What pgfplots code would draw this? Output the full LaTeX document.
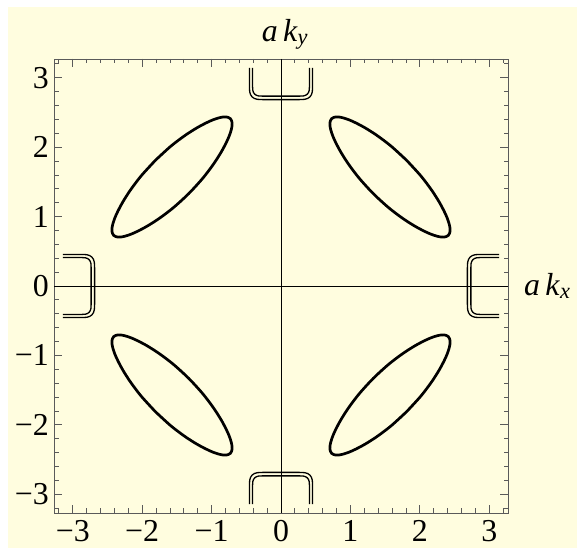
\documentclass[border=0pt]{standalone}
\usepackage{fontspec}
\setmainfont{Liberation Serif}
\usepackage{pgfplots}
\pgfplotsset{compat=1.18}
\usepackage{pgfplotstable}
\definecolor{bgyellow}{HTML}{FFFDDF}
\definecolor{framegray}{HTML}{5A5A5A}

% one lobe (first quadrant)
\pgfplotstableread{
x y
1.810 1.810
2.013 1.588
2.165 1.388
2.276 1.215
2.350 1.077
2.394 0.979
2.422 0.895
2.434 0.836
2.436 0.788
2.411 0.729
2.352 0.704
2.304 0.706
2.245 0.718
2.161 0.746
2.063 0.790
1.925 0.864
1.752 0.975
1.552 1.127
1.330 1.330
1.127 1.552
0.975 1.752
0.864 1.925
0.790 2.063
0.746 2.161
0.718 2.245
0.706 2.304
0.704 2.352
0.729 2.411
0.788 2.436
0.836 2.434
0.895 2.422
0.979 2.394
1.077 2.350
1.215 2.276
1.388 2.165
1.588 2.013
1.810 1.810
}\lobe

% bracket near the zone edge (top one): a = across, b = along
\pgfplotstableread{
a b
-0.455 3.1416
-0.455 2.875
-0.451 2.798
-0.438 2.755
-0.416 2.724
-0.385 2.702
-0.342 2.689
-0.265 2.685
0.265 2.685
0.342 2.689
0.385 2.702
0.416 2.724
0.438 2.755
0.451 2.798
0.455 2.875
0.455 3.1416
}\outerb

\pgfplotstableread{
a b
-0.410 3.1416
-0.410 2.880
-0.407 2.821
-0.397 2.789
-0.380 2.765
-0.356 2.748
-0.324 2.738
-0.265 2.735
0.265 2.735
0.324 2.738
0.356 2.748
0.380 2.765
0.397 2.789
0.407 2.821
0.410 2.880
0.410 3.1416
}\innerb

\begin{document}
\begin{tikzpicture}
\path[use as bounding box] (0,0) rectangle (583bp,548bp);
\fill[bgyellow] (8bp,0) rectangle (577bp,541bp);
\begin{axis}[
  at={(54bp,35bp)}, anchor=south west,
  scale only axis, width=454bp, height=454bp,
  xmin=-3.27, xmax=3.27, ymin=-3.27, ymax=3.27,
  clip=false,
  axis line style={draw=framegray, line width=0.8pt},
  xtick={-3,...,3}, ytick={-3,...,3},
  xticklabels={−3,−2,−1,0,1,2,3},
  yticklabels={−3,−2,−1,0,1,2,3},
  minor xtick={-3.2,-3.0,...,3.2}, minor ytick={-3.2,-3.0,...,3.2},
  xtick pos=both, ytick pos=both,
  xticklabel pos=lower, yticklabel pos=left,
  tick align=inside,
  major tick length=8bp, minor tick length=4.5bp,
  tick style={framegray, line width=0.8pt},
  ticklabel style={font=\fontsize{32}{34}\selectfont, inner sep=0pt},
  xticklabel style={yshift=-7bp},
  yticklabel style={xshift=-5bp},
  lobe/.style={black, line width=2.7bp, smooth, tension=0.5, line join=round},
  brk/.style={black, line width=1.3bp, line join=round},
]
% axes through the origin
\addplot[black, line width=0.8bp] coordinates {(-3.27,0) (3.27,0)};
\addplot[black, line width=0.8bp] coordinates {(0,-3.27) (0,3.27)};

% four lobes
\addplot[lobe] table[x=x, y=y] {\lobe};
\addplot[lobe] table[x expr=-\thisrow{x}, y=y] {\lobe};
\addplot[lobe] table[x expr=-\thisrow{x}, y expr=-\thisrow{y}] {\lobe};
\addplot[lobe] table[x=x, y expr=-\thisrow{y}] {\lobe};

% double brackets at the four edges
\addplot[brk] table[x=a, y=b] {\outerb};
\addplot[brk] table[x=a, y=b] {\innerb};
\addplot[brk] table[x=a, y expr=-\thisrow{b}] {\outerb};
\addplot[brk] table[x=a, y expr=-\thisrow{b}] {\innerb};
\addplot[brk] table[x=b, y=a] {\outerb};
\addplot[brk] table[x=b, y=a] {\innerb};
\addplot[brk] table[x expr=-\thisrow{b}, y=a] {\outerb};
\addplot[brk] table[x expr=-\thisrow{b}, y=a] {\innerb};

\node[anchor=west, inner sep=0pt, font=\fontsize{32}{34}\selectfont]
  at (axis description cs:1,0.5) [xshift=16bp] {\textit{a\,k}\textsubscript{\textit{x}}};
\node[anchor=south, inner sep=0pt, font=\fontsize{32}{34}\selectfont]
  at (axis description cs:0.5,1) [xshift=4bp, yshift=9bp] {\textit{a\,k}\textsubscript{\textit{y}}};
\end{axis}
\end{tikzpicture}
\end{document}
